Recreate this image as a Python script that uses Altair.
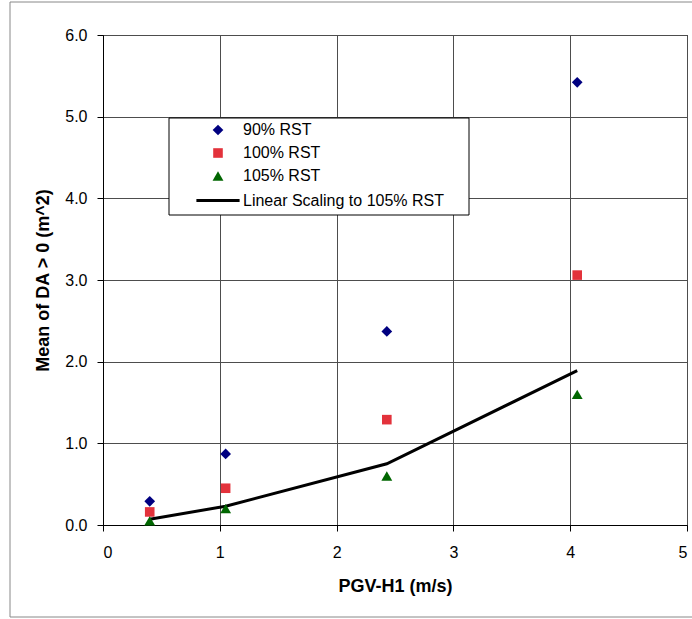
import altair as alt
import pandas as pd

# ---- data ----
pgv = [0.40, 1.05, 2.43, 4.06]
rst90 = [0.29, 0.87, 2.37, 5.42]
rst100 = [0.16, 0.45, 1.29, 3.06]
rst105 = [0.05, 0.20, 0.60, 1.60]
linear105 = [0.07, 0.23, 0.75, 1.89]

series_names = ["90% RST", "100% RST", "105% RST", "Linear Scaling to 105% RST"]
series_colors = ["#000080", "#E3323B", "#006600", "#000000"]
# symbol outlines in Vega's unit box (scaled by sqrt(size)/2)
series_shapes = [
    "M0,-0.67L0.67,0L0,0.67L-0.67,0Z",
    "M-0.6,-0.6L0.6,-0.6L0.6,0.6L-0.6,0.6Z",
    "M0,-0.58L0.68,0.58L-0.68,0.58Z",
    "M-2.7,0L2.7,0",
]
series_strokes = [0, 0, 0, 3]

x_ticks = [0, 1, 2, 3, 4, 5]
y_ticks = [0, 1, 2, 3, 4, 5, 6]

pts = pd.DataFrame({
    "pgv": pgv * 3,
    "mean": rst90 + rst100 + rst105,
    "series": [series_names[0]] * 4 + [series_names[1]] * 4 + [series_names[2]] * 4,
})
line_df = pd.DataFrame({"pgv": pgv, "mean": linear105})
dummy = pd.DataFrame({"a": [0]})

FONT = "Liberation Sans"
SYM = 256

x_enc = alt.X(
    "pgv:Q",
    scale=alt.Scale(domain=[0, 5], nice=False),
    axis=alt.Axis(values=x_ticks, title="PGV-H1 (m/s)", format="d",
                  labelPadding=13, titleY=52),
)
y_enc = alt.Y(
    "mean:Q",
    scale=alt.Scale(domain=[0, 6], nice=False),
    axis=alt.Axis(values=y_ticks, title="Mean of DA > 0 (m^2)", format=".1f",
                  labelPadding=10, titleX=-51, titleY=245),
)

points = alt.Chart(pts).mark_point(filled=True, opacity=1, size=SYM).encode(
    x=x_enc,
    y=y_enc,
    color=alt.Color("series:N", scale=alt.Scale(domain=series_names, range=series_colors),
                    legend=alt.Legend(title=None, orient="none", legendX=105.5, legendY=87)),
    stroke=alt.Stroke("series:N", scale=alt.Scale(domain=series_names, range=series_colors)),
    shape=alt.Shape("series:N", scale=alt.Scale(domain=series_names, range=series_shapes)),
    strokeWidth=alt.StrokeWidth("series:N", scale=alt.Scale(type="ordinal", domain=series_names, range=series_strokes)),
)

line = alt.Chart(line_df).mark_line(color="black", strokeWidth=3).encode(
    x="pgv:Q", y="mean:Q"
)

outer_border = alt.Chart(dummy).mark_rect(fill="transparent", stroke="#888888", strokeWidth=1).encode(
    x=alt.value(-93), x2=alt.value(640), y=alt.value(-33), y2=alt.value(582)
)

legend_box = alt.Chart(dummy).mark_rect(fill="white", stroke="black", strokeWidth=1).encode(
    x=alt.value(66), x2=alt.value(366), y=alt.value(83), y2=alt.value(180)
)

chart = alt.layer(outer_border, legend_box, line, points).properties(
    width=584,
    height=490,
    autosize=alt.AutoSizeParams(type="none"),
    padding={"left": 103, "top": 35, "right": 5, "bottom": 94},
    background="white",
).configure_view(
    stroke="black", strokeWidth=1
).configure_axis(
    labelFont=FONT, labelFontSize=16, labelColor="black",
    titleFont=FONT, titleFontSize=18, titleFontWeight="bold", titleColor="black",
    domainColor="black", tickColor="black", tickSize=6,
    gridColor="#4d4d4d", gridOpacity=1, gridWidth=1,
).configure_legend(
    labelFont=FONT, labelFontSize=16, labelColor="black", labelLimit=400,
    labelOffset=15.5, rowPadding=7, padding=0, symbolOpacity=1, symbolSize=SYM,
)

chart.save("out.html", embed_options={"renderer": "svg", "actions": False})
